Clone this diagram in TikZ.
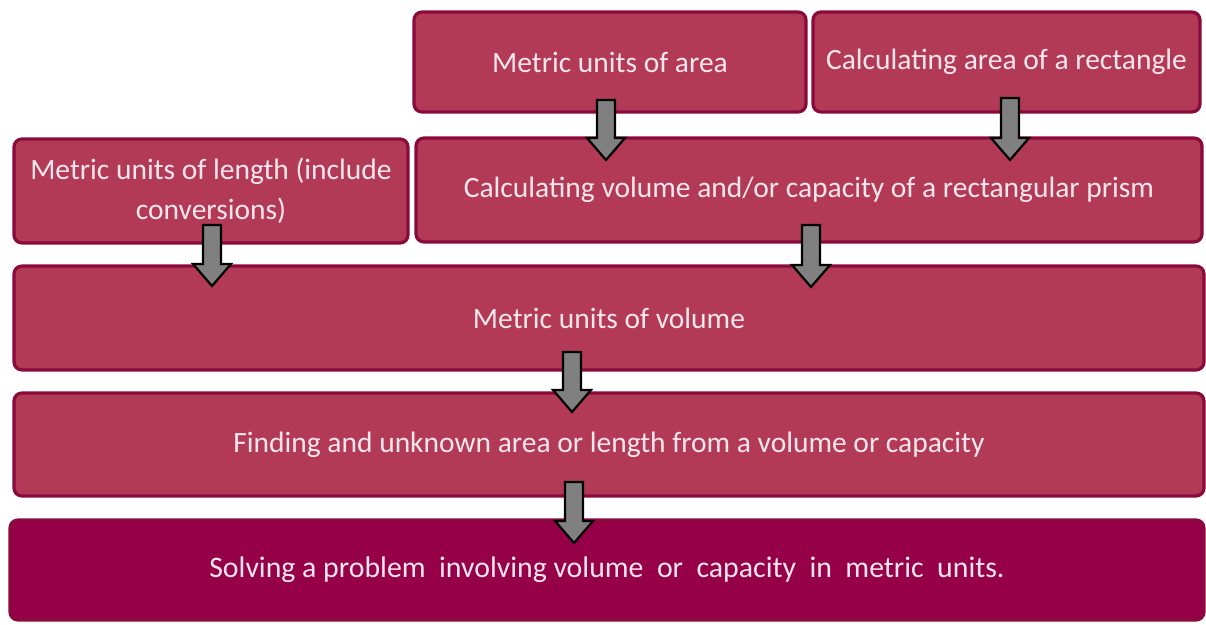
\documentclass[tikz,border=0pt]{standalone}
\usepackage{fontspec}
\setmainfont{Carlito}
\usetikzlibrary{calc}
\definecolor{boxfill}{HTML}{B23A56}
\definecolor{boxline}{HTML}{8A0A3C}
\definecolor{darkfill}{HTML}{960048}
\definecolor{txt}{HTML}{FCE6EE}
\definecolor{arrfill}{HTML}{808080}
\tikzset{
  box/.style={draw=boxline, line width=3.2pt, fill=boxfill, rounded corners=8pt,
    text=txt, font=\fontsize{29.5}{40}\selectfont, align=center, inner sep=0pt},
  finalbox/.style={box, fill=darkfill, font=\fontsize{29.8}{36}\selectfont},
  blockarrow/.style={draw=black, line width=2.2pt, fill=arrfill, line join=miter}
}
\newcommand\barrow[2]{\draw[blockarrow] let \p1=(#1), \p2=(#2) in
  (\x1-9pt,\y1) -- (\x1+9pt,\y1) -- (\x1+9pt,\y2+22pt) -- (\x1+19pt,\y2+22pt) --
  (\x1,\y2) -- (\x1-19pt,\y2+22pt) -- (\x1-9pt,\y2+22pt) -- cycle;}
\begin{document}
\begin{tikzpicture}[x=1pt,y=-1pt]
\useasboundingbox[fill=white] (0,0) rectangle (1206,624);
\node[box, minimum width=392pt, minimum height=100pt] (area) at (610,62) {Metric units of area};
\node[box, minimum width=387pt, minimum height=100pt] (rect) at (1006.5,62) {Calculating area of a rectangle};
\node[box, minimum width=394pt, minimum height=104pt] (length) at (211,191) {Metric units of length (include\\conversions)};
\node[box, minimum width=786pt, minimum height=104pt] (vol) at (809,190) {Calculating volume and/or capacity of a rectangular prism};
\node[box, minimum width=1190pt, minimum height=104pt] (units) at (609,318) {Metric units of volume};
\node[box, minimum width=1190pt, minimum height=103pt] (find) at (609,444.5) {Finding and unknown area or length from a volume or capacity};
\node[finalbox, minimum width=1194pt, minimum height=100pt] (solve) at (607,570) {Solving a problem\ \ involving volume\ \ or\ \ capacity\ \ in\ \ metric\ \ units.};
\coordinate (a1s) at (606,100); \coordinate (a1e) at (606,160);
\coordinate (a2s) at (1010,98); \coordinate (a2e) at (1010,160);
\coordinate (a3s) at (212,225); \coordinate (a3e) at (212,286);
\coordinate (a4s) at (811,225); \coordinate (a4e) at (811,287);
\coordinate (a5s) at (572,352); \coordinate (a5e) at (572,412);
\coordinate (a6s) at (574,482); \coordinate (a6e) at (574,543);
\barrow{a1s}{a1e}
\barrow{a2s}{a2e}
\barrow{a3s}{a3e}
\barrow{a4s}{a4e}
\barrow{a5s}{a5e}
\barrow{a6s}{a6e}
\end{tikzpicture}
\end{document}
